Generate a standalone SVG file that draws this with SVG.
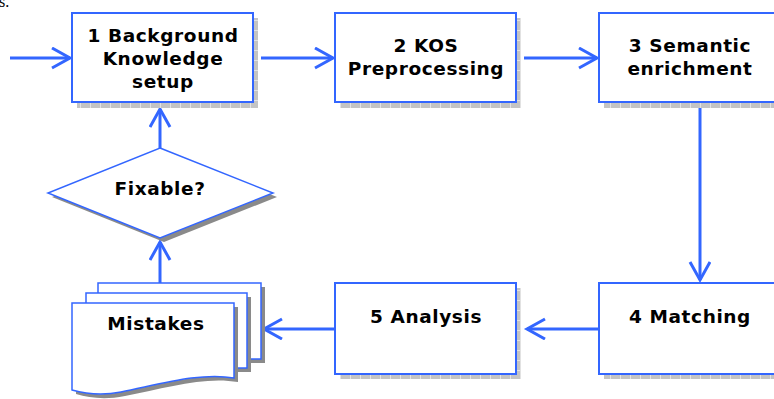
<svg xmlns="http://www.w3.org/2000/svg" width="774" height="399" viewBox="0 0 774 399">
<style>
.box{fill:#fff;stroke:#3366ff;stroke-width:2}
.hs{fill:url(#hatch)}
.ds{fill:#8a8a8a}
.lbl{font-family:"DejaVu Sans","Verdana",sans-serif;font-weight:bold;font-size:18.5px;letter-spacing:0.6px;fill:#000;text-anchor:middle}
.con{fill:none;stroke:#3366ff;stroke-width:3}
</style>
<defs>
<pattern id="hatch" width="10" height="10" patternUnits="userSpaceOnUse">
<rect width="10" height="10" fill="#c4c4c4"/>
<path d="M0,0.5H10M0.5,0V10" stroke="#e2e2e2" stroke-width="1"/>
</pattern>
<marker id="ah" markerUnits="userSpaceOnUse" markerWidth="24" markerHeight="24" refX="20" refY="11" orient="auto">
<path d="M2,1 L20,11 L2,21" fill="none" stroke="#3366ff" stroke-width="3"/>
</marker>
</defs>
<text x="-1" y="7" font-family="Liberation Serif, serif" font-size="16" fill="#000">s.</text>

<g id="connectors">
<line class="con" x1="10" y1="58" x2="70" y2="58" marker-end="url(#ah)"/>
<line class="con" x1="261" y1="58" x2="333" y2="58" marker-end="url(#ah)"/>
<line class="con" x1="524" y1="58" x2="597" y2="58" marker-end="url(#ah)"/>
<line class="con" x1="700" y1="108" x2="700" y2="280" marker-end="url(#ah)"/>
<line class="con" x1="599" y1="329" x2="527" y2="329" marker-end="url(#ah)"/>
<line class="con" x1="335" y1="329" x2="264" y2="329" marker-end="url(#ah)"/>
<line class="con" x1="160" y1="283" x2="160" y2="242" marker-end="url(#ah)"/>
<line class="con" x1="160" y1="148" x2="160" y2="109" marker-end="url(#ah)"/>
</g>

<g id="n1">
<rect class="hs" x="77" y="18" width="181" height="90"/>
<rect class="box" x="72" y="13" width="181" height="89"/>
<text class="lbl" x="163" y="42">1 Background</text>
<text class="lbl" x="163" y="65">Knowledge</text>
<text class="lbl" x="163" y="88">setup</text>
</g>

<g id="n2">
<rect class="hs" x="340" y="18" width="181" height="90"/>
<rect class="box" x="335" y="13" width="181" height="89"/>
<text class="lbl" x="426" y="52">2 KOS</text>
<text class="lbl" x="426" y="75">Preprocessing</text>
</g>

<g id="n3">
<rect class="hs" x="604" y="18" width="181" height="90"/>
<rect class="box" x="599" y="13" width="181" height="89"/>
<text class="lbl" x="690" y="52">3 Semantic</text>
<text class="lbl" x="690" y="75">enrichment</text>
</g>

<g id="n4">
<rect class="hs" x="604" y="288" width="181" height="91"/>
<rect class="box" x="599" y="283" width="181" height="91"/>
<text class="lbl" x="690" y="323">4 Matching</text>
</g>

<g id="n5">
<rect class="hs" x="340" y="288" width="181" height="91"/>
<rect class="box" x="335" y="283" width="181" height="91"/>
<text class="lbl" x="426" y="323">5 Analysis</text>
</g>

<g id="fixable">
<polygon class="ds" points="164,152 277,197 164,242 52,197"/>
<polygon fill="#fff" stroke="#3366ff" stroke-width="1.5" points="160,148 273,193 160,238 48,193"/>
<text class="lbl" x="160" y="195">Fixable?</text>
</g>

<g id="mistakes">
<rect class="ds" x="102" y="287" width="163" height="76"/>
<rect fill="#fff" stroke="#3366ff" stroke-width="1.5" x="98" y="283" width="163" height="76"/>
<rect class="ds" x="90" y="297" width="161" height="75"/>
<rect fill="#fff" stroke="#3366ff" stroke-width="1.5" x="86" y="293" width="161" height="75"/>
<path class="ds" d="M76,307 H238 V382 C205,376 165,388 125,396 C105,400 90,398 76,394 Z"/>
<path fill="#fff" stroke="#3366ff" stroke-width="1.5" d="M72,303 H234 V378 C201,372 161,384 121,392 C101,396 86,394 72,390 Z"/>
<text class="lbl" x="156" y="330">Mistakes</text>
</g>
</svg>
